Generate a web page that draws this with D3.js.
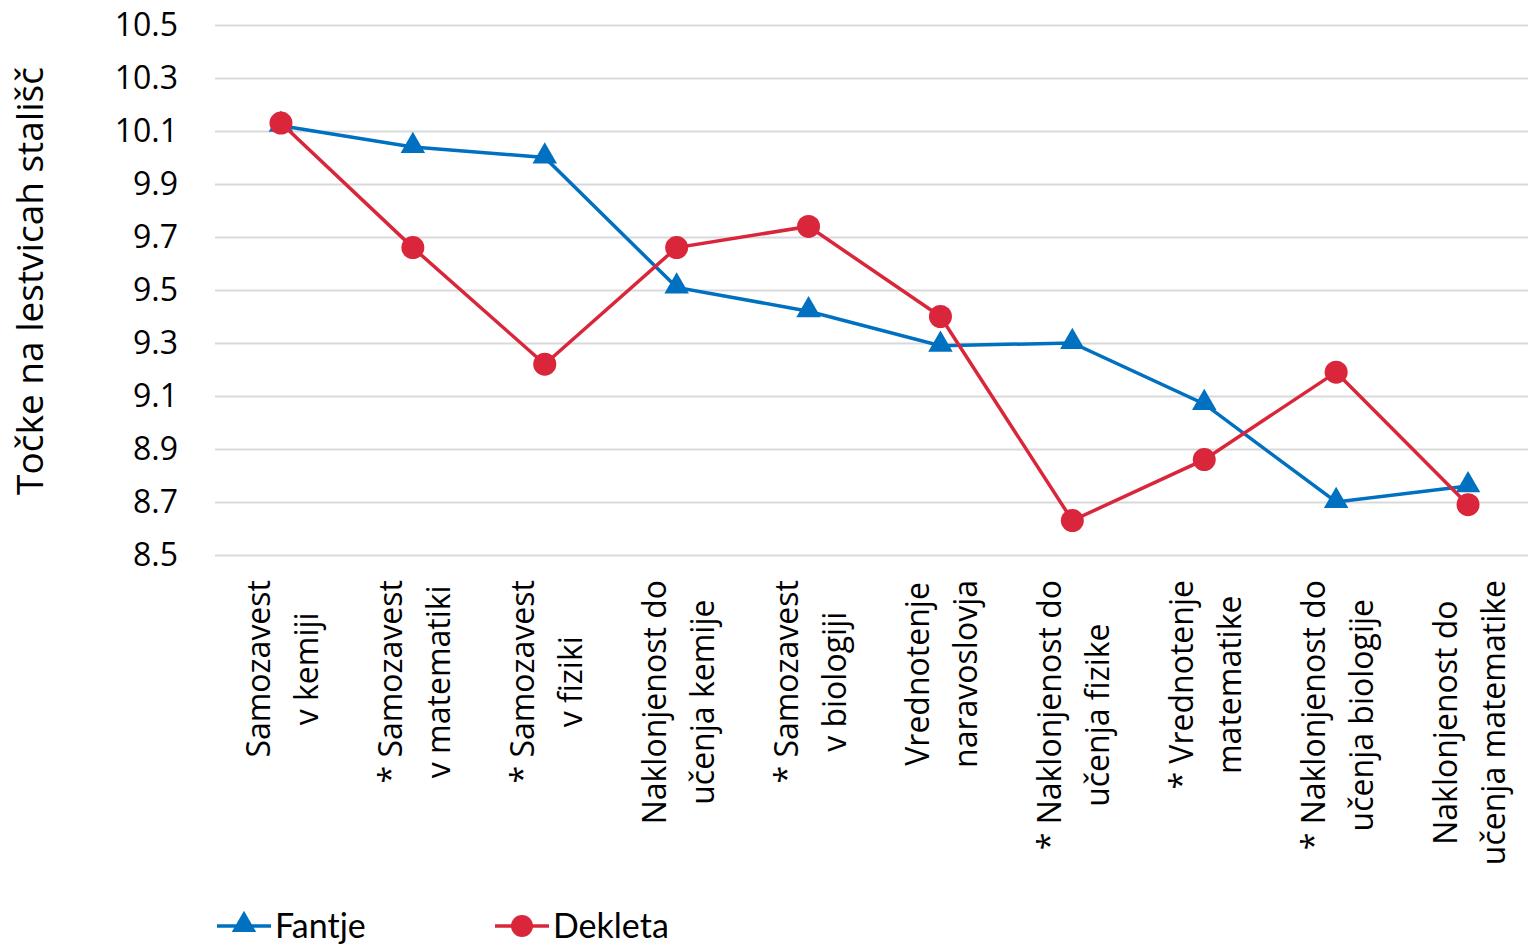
<!doctype html>
<html lang="sl">
<head>
<meta charset="utf-8">
<title>Točke na lestvicah stališč</title>
<script src="https://cdn.jsdelivr.net/npm/d3@7"></script>
<style>
  html, body { margin: 0; padding: 0; background: #fff; }
  svg { display: block; }
  text { font-family: "Open Sans", "Noto Sans", sans-serif; fill: #000; }
  .legend text { font-family: Lato, "Open Sans", sans-serif; }
</style>
</head>
<body>
<div id="chart"></div>
<script>
// categories, two lines each as in the original labels
const categories = [
  ["Samozavest", "v kemiji"],
  ["* Samozavest", "v matematiki"],
  ["* Samozavest", "v fiziki"],
  ["Naklonjenost do", "učenja kemije"],
  ["* Samozavest", "v biologiji"],
  ["Vrednotenje", "naravoslovja"],
  ["* Naklonjenost do", "učenja fizike"],
  ["* Vrednotenje", "matematike"],
  ["* Naklonjenost do", "učenja biologije"],
  ["Naklonjenost do", "učenja matematike"]
];
const fantje  = [10.12, 10.04, 10.00, 9.51, 9.42, 9.29, 9.30, 9.07, 8.70, 8.76];
const dekleta = [10.13, 9.66, 9.22, 9.66, 9.74, 9.40, 8.63, 8.86, 9.19, 8.69];
const yTicks  = [8.5, 8.7, 8.9, 9.1, 9.3, 9.5, 9.7, 9.9, 10.1, 10.3, 10.5];
const yTitle  = "Točke na lestvicah stališč";

const W = 1528, H = 946;
const plot = { left: 215, right: 1534, top: 25, bottom: 555 };

const svg = d3.select("#chart").append("svg")
  .attr("width", W).attr("height", H);

const x = d3.scaleBand()
  .domain(d3.range(categories.length))
  .range([plot.left, plot.right]);
const y = d3.scaleLinear()
  .domain([8.5, 10.5])
  .range([plot.bottom, plot.top]);
const cx = i => x(i) + x.bandwidth() / 2;

// gridlines + tick labels
const yAxis = svg.append("g")
  .attr("transform", "translate(" + plot.left + ",0)")
  .call(d3.axisLeft(y).tickValues(yTicks).tickFormat(d3.format(".1f"))
    .tickSize(-(plot.right - plot.left)).tickPadding(37));
yAxis.select(".domain").remove();
yAxis.selectAll(".tick line").attr("stroke", "#d9d9d9").attr("stroke-width", 2);
yAxis.selectAll(".tick text")
  .attr("font-size", 32)
  .attr("font-family", "'Open Sans', sans-serif")
  .attr("fill", "#000");

// y title
svg.append("text")
  .attr("transform", "translate(43,281) rotate(-90)")
  .attr("text-anchor", "middle")
  .attr("font-size", 37)
  .text(yTitle);

// category labels, rotated, lines centred on each other, top aligned
const labelTop = 580;
const lineOffsets = [-11, 37];
categories.forEach((lines, i) => {
  const g = svg.append("g")
    .attr("transform", "translate(" + cx(i) + "," + labelTop + ") rotate(-90)");
  const texts = lines.map((s, k) => g.append("text")
    .attr("y", lineOffsets[k])
    .attr("font-size", 32)
    .attr("text-anchor", "middle")
    .text(s));
  const maxLen = d3.max(texts, t => t.node().getComputedTextLength());
  texts.forEach(t => t.attr("x", -maxLen / 2));
});

// series
const line = d3.line().x((d, i) => cx(i)).y(d => y(d));
const blue = "#0070c0", red = "#d9263b";
const tri = d3.symbol().type(d3.symbolTriangle).size(260);

svg.append("path").datum(fantje)
  .attr("d", line).attr("fill", "none")
  .attr("stroke", blue).attr("stroke-width", 3.5);
svg.append("g").selectAll("path").data(fantje).join("path")
  .attr("d", tri)
  .attr("transform", (d, i) => "translate(" + cx(i) + "," + (y(d) - 1) + ")")
  .attr("fill", blue);

svg.append("path").datum(dekleta)
  .attr("d", line).attr("fill", "none")
  .attr("stroke", red).attr("stroke-width", 3.5);
svg.append("g").selectAll("circle").data(dekleta).join("circle")
  .attr("cx", (d, i) => cx(i)).attr("cy", d => y(d)).attr("r", 11.5)
  .attr("fill", red);

// legend
const legend = svg.append("g").attr("class", "legend");
const items = [
  { name: "Fantje", color: blue, x0: 217, marker: "tri" },
  { name: "Dekleta", color: red, x0: 495, marker: "circle" }
];
items.forEach(it => {
  const ly = 926;
  legend.append("line")
    .attr("x1", it.x0).attr("x2", it.x0 + 54)
    .attr("y1", ly).attr("y2", ly)
    .attr("stroke", it.color).attr("stroke-width", 3.5);
  if (it.marker === "tri") {
    legend.append("path").attr("d", tri)
      .attr("transform", "translate(" + (it.x0 + 27) + "," + (ly - 1) + ")")
      .attr("fill", it.color);
  } else {
    legend.append("circle").attr("cx", it.x0 + 27).attr("cy", ly).attr("r", 11)
      .attr("fill", it.color);
  }
  legend.append("text")
    .attr("x", it.x0 + 58).attr("y", 938)
    .attr("font-size", 34)
    .text(it.name);
});
</script>
</body>
</html>
